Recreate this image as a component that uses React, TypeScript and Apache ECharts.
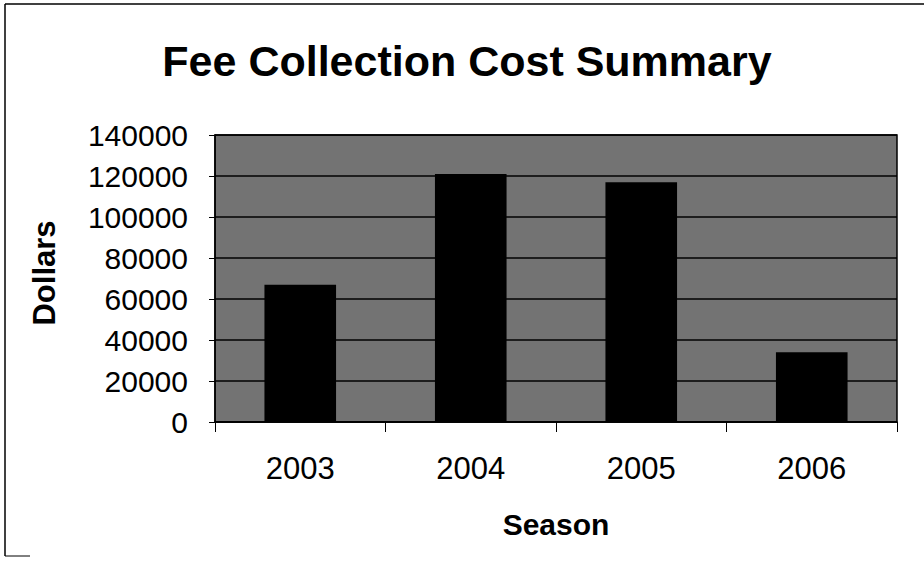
import React, { useEffect, useRef } from "react";
import * as echarts from "echarts";

const categories = ["2003", "2004", "2005", "2006"];
const costs = [67000, 121000, 117000, 34000];
const yTicks = [0, 20000, 40000, 60000, 80000, 100000, 120000, 140000];

export default function App() {
  const ref = useRef<HTMLDivElement>(null);
  useEffect(() => {
    document.body.style.margin = "0";
    const chart = echarts.init(ref.current!, null, { renderer: "svg" });
    const font = "Liberation Sans, Arial, sans-serif";
    chart.setOption({
      animation: false,
      backgroundColor: "#ffffff",
      title: {
        text: "Fee Collection Cost Summary",
        left: 462,
        textAlign: "center",
        top: 34,
        textStyle: { fontFamily: font, fontSize: 43, fontWeight: "bold", color: "#000" },
      },
      grid: {
        left: 215,
        right: 27,
        top: 135,
        bottom: 151,
        show: true,
        backgroundColor: "#737373",
        borderColor: "#000",
        borderWidth: 1.5,
      },
      xAxis: {
        type: "category",
        data: categories,
        axisLine: { lineStyle: { color: "#000", width: 1.5 } },
        axisTick: { show: true, length: 10, lineStyle: { color: "#000" } },
        axisLabel: { fontFamily: font, fontSize: 31, color: "#000", margin: 31 },
      },
      yAxis: {
        type: "value",
        min: 0,
        max: 140000,
        interval: 20000,
        axisLine: { show: true, lineStyle: { color: "#000", width: 1.5 } },
        axisTick: { show: true, length: 6, lineStyle: { color: "#000" } },
        axisLabel: {
          fontFamily: font,
          fontSize: 30,
          color: "#000",
          margin: 27,
          formatter: (v: number) => (yTicks.includes(v) ? String(v) : ""),
        },
        splitLine: { show: true, lineStyle: { color: "#000", width: 1.5 } },
      },
      series: [
        {
          type: "bar",
          data: costs,
          barWidth: "42%",
          itemStyle: { color: "#000" },
        },
      ],
      graphic: [
        {
          type: "text",
          x: 556,
          y: 524,
          style: { text: "Season", font: `bold 30px ${font}`, fill: "#000", align: "center", verticalAlign: "middle" },
        },
        {
          type: "text",
          x: 44,
          y: 273,
          rotation: Math.PI / 2,
          style: { text: "Dollars", font: `bold 31px ${font}`, fill: "#000", align: "center", verticalAlign: "middle" },
        },
        { type: "line", shape: { x1: 5, y1: 4, x2: 924, y2: 4 }, style: { stroke: "#000", lineWidth: 1.5 } },
        { type: "line", shape: { x1: 5, y1: 4, x2: 5, y2: 556 }, style: { stroke: "#000", lineWidth: 1.5 } },
        { type: "line", shape: { x1: 5, y1: 556, x2: 30, y2: 556 }, style: { stroke: "#000", lineWidth: 1 } },
      ],
    });
    return () => chart.dispose();
  }, []);
  return <div ref={ref} style={{ width: 924, height: 573 }} />;
}
